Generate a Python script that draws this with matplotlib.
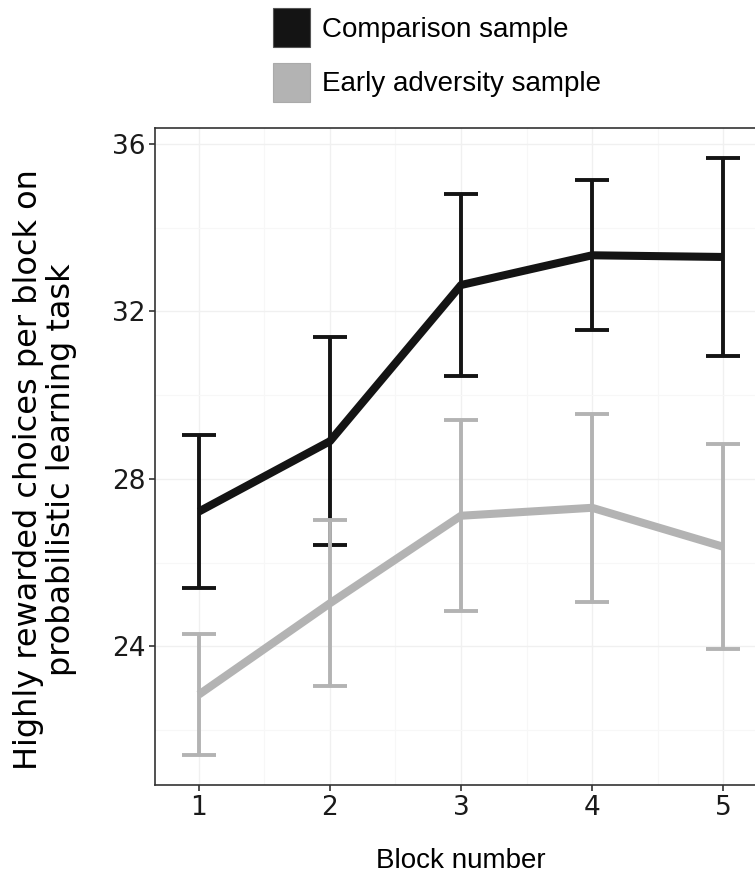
import numpy as np
import matplotlib
matplotlib.use('Agg')
import matplotlib.pyplot as plt
from matplotlib.patches import Patch

plt.rcParams['font.family'] = ['Liberation Sans', 'DejaVu Sans']

# Data
blocks = [1, 2, 3, 4, 5]
comp_mean = [27.22, 28.90, 32.63, 33.34, 33.30]
comp_err = [1.83, 2.49, 2.18, 1.79, 2.37]
adv_mean = [22.85, 25.03, 27.12, 27.31, 26.38]
adv_err = [1.45, 1.98, 2.28, 2.25, 2.45]
labels = ['Comparison sample', 'Early adversity sample']

black = '#141414'
grey = '#b3b3b3'

fig = plt.figure(figsize=(7.55, 8.76), dpi=100)
ax = fig.add_axes([155 / 755, 1 - 785 / 876, (767 - 155) / 755, (785 - 128) / 876])

# faint ggplot-like grid
ax.set_xticks(blocks)
ax.set_xticks([1.5, 2.5, 3.5, 4.5], minor=True)
ax.set_yticks([24, 28, 32, 36])
ax.set_yticks([22, 26, 30, 34], minor=True)
ax.grid(True, which='major', color='#f0f0f0', linewidth=1.0)
ax.grid(True, which='minor', color='#f7f7f7', linewidth=0.8)
ax.set_axisbelow(True)

for mean, err, col in [(comp_mean, comp_err, black), (adv_mean, adv_err, grey)]:
    ax.plot(blocks, mean, color=col, linewidth=5.8, solid_capstyle='butt', zorder=2)
    ax.errorbar(blocks, mean, yerr=err, fmt='none', ecolor=col, elinewidth=2.8,
                capsize=12, capthick=2.8, zorder=3)

ax.set_xlim(0.665, 5.335)
ax.set_ylim(20.69, 36.38)

for side in ['top', 'left', 'bottom', 'right']:
    ax.spines[side].set_color('#333333')
    ax.spines[side].set_linewidth(1.2)

ax.tick_params(axis='both', which='major', length=4, width=1.2, color='#333333',
               labelcolor='#1a1a1a', pad=3)
ax.tick_params(axis='both', which='minor', length=0)
for lab in ax.get_xticklabels() + ax.get_yticklabels():
    lab.set_fontfamily('DejaVu Sans')
    lab.set_fontsize(19)

ax.set_xlabel('Block number', fontsize=20)
ax.xaxis.set_label_coords(0.5, -0.096)
ax.set_ylabel('Highly rewarded choices per block on\nprobabilistic learning task',
              fontsize=23, family='DejaVu Sans', linespacing=1.08)
ax.yaxis.set_label_coords(-0.128, 0.48)

handles = [Patch(facecolor=black, edgecolor='#555555', linewidth=0.8),
           Patch(facecolor=grey, edgecolor='#aaaaaa', linewidth=0.8)]
fig.legend(handles=handles, labels=labels, loc='upper left',
           bbox_to_anchor=(273 / 755, 1 - 8 / 876), frameon=False, fontsize=20,
           handlelength=1.33, handleheight=1.8, handletextpad=0.45,
           labelspacing=0.55, borderpad=0, borderaxespad=0)

plt.savefig('out.png', dpi=100)
